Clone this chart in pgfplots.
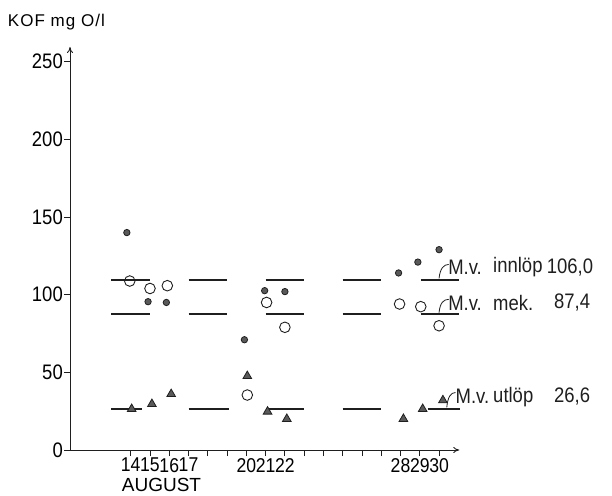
\documentclass[border=0pt]{standalone}
\usepackage{pgfplots}
\pgfplotsset{compat=1.18}
\usetikzlibrary{arrows.meta}
\usepackage{fontspec}
\setmainfont{Liberation Sans}
\newfontfamily\cond[FakeStretch=0.88]{Liberation Sans}
\newfontfamily\wide[LetterSpace=6]{Liberation Sans}
\definecolor{ink}{gray}{0.12}
\definecolor{dotfill}{gray}{0.35}
\begin{document}
\begin{tikzpicture}
\useasboundingbox (0pt,0pt) rectangle (612pt,495pt);
\begin{axis}[
  at={(70pt,45pt)}, anchor=south west,
  scale only axis, width=389.3pt, height=403pt,
  xmin=10.85, xmax=31.05, ymin=0, ymax=259.5,
  axis x line=bottom, axis y line=left,
  axis line style={ink, line width=0.9pt, -{To[length=6pt,width=6pt]}},
  clip=false,
  xtick={14,...,30},
  xticklabels={14,15,16,17,,,20,21,22,,,,,,28,29,30},
  ytick={0,50,100,150,200,250},
  tick align=outside, major tick length=6pt,
  tick style={ink, line width=0.8pt},
  /pgf/number format/assume math mode=true,
  xticklabel style={font=\cond\fontsize{20}{22}\selectfont, inner sep=1pt, yshift=-1pt},
  yticklabel style={font=\cond\fontsize{21}{22}\selectfont, inner sep=1pt},
  xlabel={AUGUST},
  every axis x label/.style={at={(axis description cs:0.235,0)}, anchor=center, inner sep=0pt, yshift=-35pt, font=\fontsize{19}{20}\selectfont},
  ylabel={KOF mg O/l},
  every axis y label/.style={at={(axis description cs:-0.16,1.062)}, anchor=west, inner sep=0pt, font=\wide\fontsize{17}{20}\selectfont},
  unbounded coords=jump,
]
% mean value segments
\addplot[ink, line width=1.3pt, no marks] coordinates {
 (13,109.5) (15,109.5) (15,nan) (17,109.5) (19,109.5) (19,nan) (21,109.5) (23,109.5) (23,nan)
 (25,109.5) (27,109.5) (27,nan) (29.05,109.5) (31.05,109.5)};
\addplot[ink, line width=1.3pt, no marks] coordinates {
 (13,87.6) (15,87.6) (15,nan) (17,87.6) (19,87.6) (19,nan) (21,87.6) (23,87.6) (23,nan)
 (25,87.6) (27,87.6) (27,nan) (29.05,87.6) (31.05,87.6)};
\addplot[ink, line width=1.3pt, no marks] coordinates {
 (13,26.4) (14.6,26.4) (14.6,nan) (17,26.4) (19.1,26.4) (19.1,nan) (21.2,26.4) (23,26.4) (23,nan)
 (25,26.4) (27,26.4) (27,nan) (29.4,26.4) (31.1,26.4)};
% innlop (filled circles)
\addplot[only marks, mark=*, mark size=3.2pt, mark options={fill=dotfill, draw=ink, line width=0.8pt}] coordinates {
 (13.8,140) (14.9,95.5) (15.85,95) (19.9,71) (20.95,102.6) (22,102) (27.9,114) (28.9,121) (30,129)};
% mek (open circles)
\addplot[only marks, mark=o, mark size=5.3pt, mark options={draw=ink, fill=white, line width=0.9pt}] coordinates {
 (13.95,108.8) (15,104) (15.9,105.8) (20.05,35.4) (21.05,95) (22,79) (27.95,94) (29.05,92.3) (30,80)};
% utlop (triangles)
\addplot[only marks, mark=triangle*, mark size=5pt, mark options={fill=dotfill, draw=ink, line width=0.8pt}] coordinates {
 (14.05,26.4) (15.1,29.6) (16.1,36) (20.05,47.6) (21.1,24.7) (22.1,20) (28.15,20) (29.15,26.4) (30.2,32)};
% hooks
\draw[ink, line width=0.8pt] (axis cs:30.0,110.5) .. controls (axis cs:30.05,117) and (axis cs:30.25,119.5) .. (axis cs:30.5,119.5);
\draw[ink, line width=0.8pt] (axis cs:30.0,88.5) .. controls (axis cs:30.05,95) and (axis cs:30.25,97) .. (axis cs:30.5,97);
\draw[ink, line width=0.8pt] (axis cs:30.4,27.5) .. controls (axis cs:30.45,34) and (axis cs:30.6,37) .. (axis cs:30.85,37);
% annotations
\begin{scope}[every node/.style={font=\cond\fontsize{21}{22}\selectfont, inner sep=0pt, text=ink}]
\node[anchor=west] at (axis cs:30.47,117.8) {M.v.};
\node[anchor=west] at (axis cs:32.8,117.8) {innlöp};
\node[anchor=east] at (axis cs:38.0,117.8) {106,0};
\node[anchor=west] at (axis cs:30.47,94.7) {M.v.};
\node[anchor=west] at (axis cs:32.8,94.7) {mek.};
\node[anchor=east] at (axis cs:37.85,94.7) {87,4};
\node[anchor=west] at (axis cs:30.85,34.3) {M.v.};
\node[anchor=west] at (axis cs:32.8,34.3) {utlöp};
\node[anchor=east] at (axis cs:37.85,34.3) {26,6};
\end{scope}
\end{axis}
\end{tikzpicture}
\end{document}
